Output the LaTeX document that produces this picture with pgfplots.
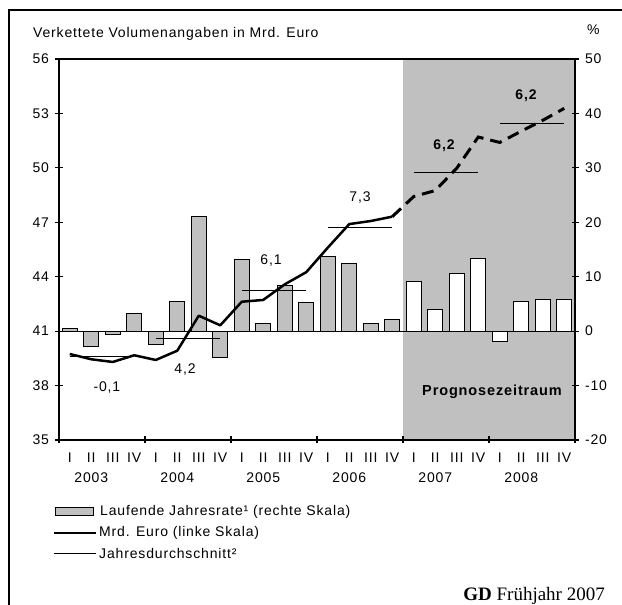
\documentclass[border=0pt]{standalone}
\usepackage{fontspec}
\setmainfont[LetterSpace=6]{Liberation Sans}
\newfontfamily\seriffont{Liberation Serif}
\usepackage{pgfplots}
\pgfplotsset{compat=1.18}
\definecolor{bggray}{RGB}{192,192,192}

\begin{document}
\begin{tikzpicture}[font=\fontsize{14}{16}\selectfont]
\useasboundingbox (0pt,0pt) rectangle (622pt,605pt);
% frame (only left and top edge visible)
\draw[line width=2pt] (9pt,0pt) -- (9pt,595pt) -- (622pt,595pt);

% right scale: running annual rate in %
\begin{axis}[
    at={(59pt,165pt)}, anchor=south west,
    scale only axis, width=516pt, height=381pt,
    xmin=-0.5, xmax=23.5, ymin=-20, ymax=50,
    axis x line=none, axis y line*=right,
    ytick={-20,-10,...,50},
    yticklabels={-20,-10,0,10,20,30,40,50},
    yticklabel style={xshift=3pt},
    tick align=center, major tick length=7pt,
    axis line style={line width=1.6pt},
    tick style={line width=1.2pt, black},
    axis on top,
]
\fill[bggray] (axis cs:15.5,-20) rectangle (axis cs:23.5,50);
\addplot[ybar, bar width=0.7, bar shift=0pt, fill=bggray, draw=black, line width=1pt] coordinates {
    (0,0.5) (1,-2.8) (2,-0.6) (3,3.25)
    (4,-2.4) (5,5.4) (6,21.0) (7,-4.85)
    (8,13.2) (9,1.4) (10,8.45) (11,5.2)
    (12,13.7) (13,12.4) (14,1.4) (15,2.2)
};
\addplot[ybar, bar width=0.7, bar shift=0pt, fill=white, draw=black, line width=1pt] coordinates {
    (16,9.1) (17,4.0) (18,10.5) (19,13.4)
    (20,-1.85) (21,5.4) (22,5.9) (23,5.9)
};
\addplot[black, line width=0.8pt] coordinates {(-0.5,0) (23.5,0)};
\end{axis}

% left scale: Mrd. Euro
\begin{axis}[
    at={(59pt,165pt)}, anchor=south west,
    scale only axis, width=516pt, height=381pt,
    xmin=-0.5, xmax=23.5, ymin=35, ymax=56,
    ytick={35,38,...,56}, ytick pos=left,
    yticklabel style={xshift=-3pt},
    xtick={-0.5,3.5,...,23.5}, xticklabels={,,,,,,}, xtick pos=bottom,
    extra x ticks={0,...,23},
    extra x tick labels={I,II,III,IV,I,II,III,IV,I,II,III,IV,I,II,III,IV,I,II,III,IV,I,II,III,IV},
    extra x tick style={major tick length=0pt, xticklabel style={yshift=-9pt}},
    tick align=center, major tick length=7pt,
    axis line style={line width=1.6pt},
    tick style={line width=1.2pt, black},
    /pgf/number format/assume math mode=true,
    unbounded coords=jump,
    clip=false,
]
\addplot[black, line width=2.5pt, line join=round] coordinates {
    (0,39.74) (1,39.45) (2,39.30) (3,39.67)
    (4,39.41) (5,39.92) (6,41.85) (7,41.32)
    (8,42.62) (9,42.72) (10,43.58) (11,44.25)
    (12,45.6) (13,46.90) (14,47.07) (15,47.31)
};
\addplot[black, line width=3pt, dash pattern=on 12pt off 7pt] coordinates {
    (15,47.31) (16,48.42) (17,48.75) (18,49.98)
    (19,51.70) (20,51.40) (21,52.02) (22,52.62) (23,53.28)
};
\addplot[black, line width=0.9pt] coordinates {
    (0,39.59) (3,39.59) (3.5,nan)
    (4,40.6) (7,40.6) (7.5,nan)
    (8,43.27) (11,43.27) (11.5,nan)
    (12,46.72) (15,46.72) (15.5,nan)
    (16,49.73) (19,49.73) (19.5,nan)
    (20,52.46) (23,52.46)
};
\node at (axis cs:1.73,37.92) {-0,1};
\node at (axis cs:5.36,38.86) {4,2};
\node at (axis cs:9.36,44.92) {6,1};
\node at (axis cs:13.5,48.34) {7,3};
\node[font=\fontsize{14}{16}\selectfont\bfseries] at (axis cs:17.41,51.21) {6,2};
\node[font=\fontsize{14}{16}\selectfont\bfseries] at (axis cs:21.22,53.96) {6,2};
\node[font=\fontsize{14.5}{16}\selectfont\bfseries] at (axis cs:19.64,37.65) {Prognosezeitraum};
\node[yshift=-38pt] at (axis cs:1,35) {2003};
\node[yshift=-38pt] at (axis cs:5,35) {2004};
\node[yshift=-38pt] at (axis cs:9,35) {2005};
\node[yshift=-38pt] at (axis cs:13,35) {2006};
\node[yshift=-38pt] at (axis cs:17,35) {2007};
\node[yshift=-38pt] at (axis cs:21,35) {2008};
\end{axis}

% headings
\node[anchor=base west, inner sep=0pt] at (33pt,567pt) {Verkettete Volumenangaben in Mrd. Euro};
\node[anchor=base west, inner sep=0pt] at (587pt,570pt) {\%};

% legend
\draw[fill=bggray, line width=1pt] (55pt,89pt) rectangle (93pt,97pt);
\node[anchor=west, inner sep=0pt] at (100pt,93pt) {Laufende Jahresrate¹ (rechte Skala)};
\draw[line width=2.5pt] (54pt,72pt) -- (96pt,72pt);
\node[anchor=west, inner sep=0pt] at (99pt,72pt) {Mrd. Euro (linke Skala)};
\draw[line width=0.9pt] (54pt,52pt) -- (96pt,52pt);
\node[anchor=west, inner sep=0pt] at (99pt,52pt) {Jahresdurchschnitt²};

% source
\node[anchor=base east, inner sep=0pt, font=\seriffont\fontsize{19}{22}\selectfont] at (605pt,4pt) {\textbf{GD} Frühjahr 2007};
\end{tikzpicture}
\end{document}
